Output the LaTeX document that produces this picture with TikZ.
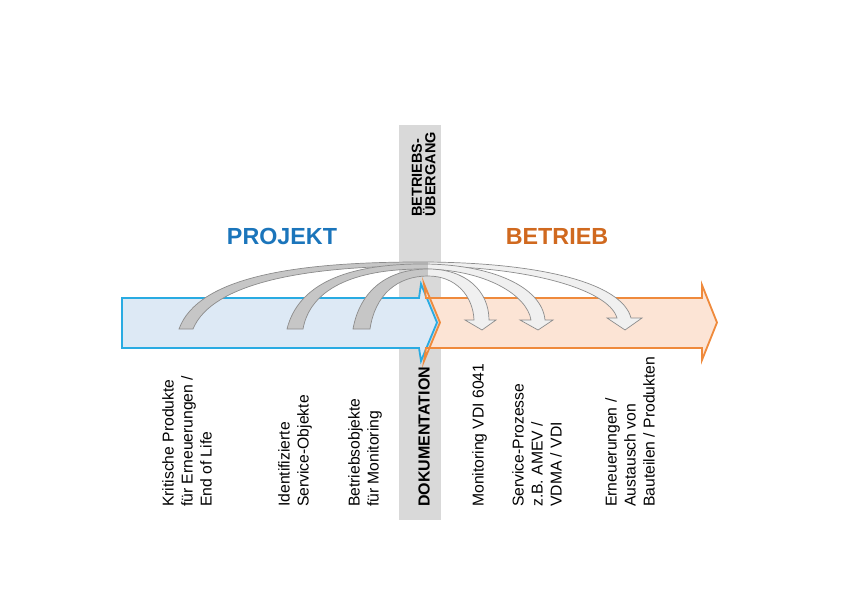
\documentclass[tikz,border=0pt]{standalone}
\usepackage{fontspec}
\setmainfont{Liberation Sans}
\definecolor{projektblau}{RGB}{27,117,187}
\definecolor{betriebsorange}{RGB}{208,105,31}
\definecolor{blaurand}{RGB}{41,171,226}
\definecolor{blaufill}{RGB}{221,233,245}
\definecolor{orangerand}{RGB}{239,138,60}
\definecolor{orangefill}{RGB}{252,228,213}
\definecolor{bandgrau}{RGB}{217,217,217}

\begin{document}
\begin{tikzpicture}[x=1pt,y=1pt,
  ribbon/.style={draw=gray!90,line width=0.7pt,fill=gray!12,
    path picture={\fill[gray!45] (0,0) rectangle (428,595);}},
  lbl/.style={rotate=90,anchor=north west,inner sep=0pt,align=left,
    font=\fontsize{15.7}{19}\selectfont},
  titel/.style={anchor=base,inner sep=0pt,font=\fontsize{23.3}{28}\selectfont\bfseries}]
                      \useasboundingbox (0,0) rectangle (842,595);
                      \fill[bandgrau] (399,75) rectangle (441,470);
                      \draw[draw=blaurand,fill=blaufill,line width=1.8pt] (122,297) -- (419,297) -- (421,311) -- (437,272.5) -- (421,234) -- (419,247) -- (122,247) -- cycle;
                      \draw[draw=orangerand,fill=orangefill,line width=1.8pt] (424,311) -- (426,297) -- (702,297) -- (702,310) -- (717,272.5) -- (702,235) -- (702,247) -- (426,247) -- (424,234) -- (440,272.5) -- cycle;
                      \draw[ribbon] (179,266) .. controls (198,318) and (295,333) .. (420,333)
                        .. controls (540,333) and (622,312) .. (631,277)
                        -- (642,277) -- (625,265) -- (607,277) -- (617,277)
                        .. controls (609,305) and (530,329) .. (420,329)
                        .. controls (305,329) and (212,312) .. (193,266) -- cycle;
                      \draw[ribbon] (287,266) .. controls (298,310) and (345,331) .. (422,331)
                        .. controls (492,331) and (542,308) .. (545,275)
                        -- (553,275) -- (538,265) -- (520,275) -- (531,275)
                        .. controls (527,300) and (485,326) .. (422,326)
                        .. controls (352,326) and (310,305) .. (303,266) -- cycle;
                      \draw[ribbon] (353,266) .. controls (360,305) and (388,326) .. (428,326)
                        .. controls (466,326) and (489,304) .. (489,275)
                        -- (496,275) -- (482,265) -- (465,275) -- (474,275)
                        .. controls (473,299) and (456,319) .. (428,319)
                        .. controls (397,319) and (375,300) .. (370,266) -- cycle;
                      \node[titel,text=projektblau] (projekt) at (282,350) {PROJEKT};
                      \node[titel,text=betriebsorange] (betrieb) at (557,350) {BETRIEB};
                      \node[rotate=90,anchor=north west,inner sep=0pt,align=left,font=\fontsize{14.5}{12}\selectfont\bfseries] (uebergang) at (411.5,378) {BETRIEBS-\\ÜBERGANG};
                      \node[rotate=90,anchor=west,inner sep=0pt,font=\fontsize{16}{18}\selectfont\bfseries] (doku) at (424,88) {DOKUMENTATION};
                      \node[lbl] (kritisch) at (162,88) {Kritische Produkte\\für Erneuerungen /\\End of Life};
                      \node[lbl] (objekte) at (278,88) {Identifizierte\\Service-Objekte};
                      \node[lbl] (betriebsobj) at (348,88) {Betriebsobjekte\\für Monitoring};
                      \node[lbl] (monitoring) at (472,88) {Monitoring VDI 6041};
                      \node[lbl] (prozesse) at (512,88) {Service-Prozesse\\z.B. AMEV /\\VDMA / VDI};
                      \node[lbl] (erneuerung) at (605,88) {Erneuerungen /\\Austausch von\\Bauteilen / Produkten};
                  \end{tikzpicture}
\end{document}
